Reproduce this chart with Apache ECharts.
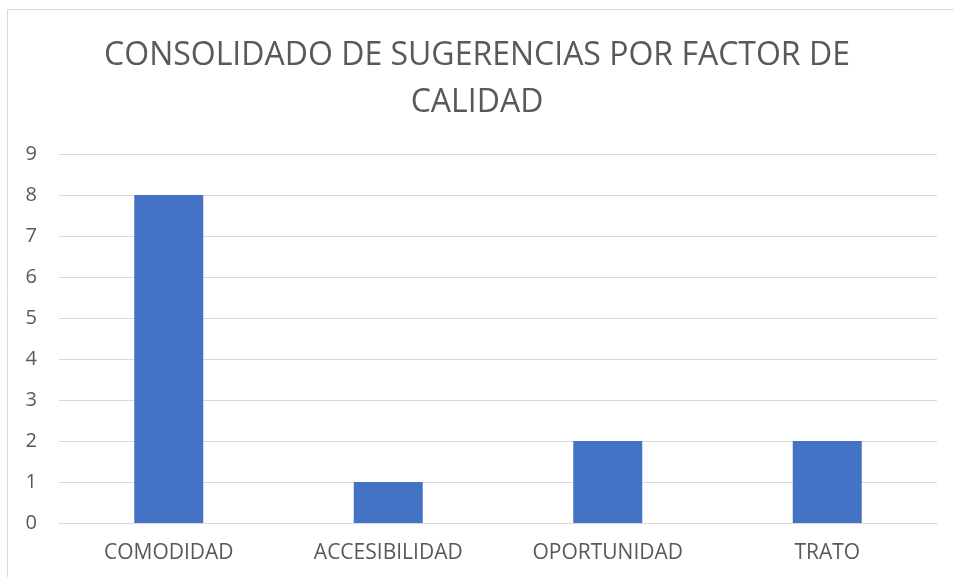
<!DOCTYPE html>
<html>
<head>
    <meta charset="UTF-8">
    <title>ECharts</title>
    <script src="https://cdn.jsdelivr.net/npm/echarts@6/dist/echarts.min.js"></script>
    <style>html,body{margin:0;padding:0;background:#fff;} #main{width:954px;height:577px;}</style>
</head>
<body>
<div id="main"></div>
<script>
    // datos
    var categorias = ['COMODIDAD', 'ACCESIBILIDAD', 'OPORTUNIDAD', 'TRATO'];
    var sugerencias = [8, 1, 2, 2];
    var titulo = 'CONSOLIDADO DE SUGERENCIAS POR FACTOR DE\nCALIDAD';

    var myChart = echarts.init(document.getElementById('main'));
    var option = {
        animation: false,
        graphic: [{
            type: 'rect',
            shape: {x: 7.5, y: 9.5, width: 960, height: 580},
            style: {fill: 'none', stroke: '#d9d9d9', lineWidth: 1}
        }],
        title: {
            text: titulo,
            left: 'center',
            top: 27,
            textStyle: {
                fontFamily: 'Open Sans',
                fontSize: 32,
                fontWeight: 'normal',
                color: '#595959',
                lineHeight: 47
            }
        },
        grid: {left: 59, right: 17, top: 154, bottom: 54},
        xAxis: {
            type: 'category',
            data: categorias,
            axisLine: {show: true, lineStyle: {color: '#d9d9d9'}},
            axisTick: {show: false},
            axisLabel: {
                fontFamily: 'Open Sans',
                fontSize: 21,
                color: '#595959',
                margin: 20
            }
        },
        yAxis: {
            type: 'value',
            min: 0,
            max: 9,
            interval: 1,
            axisLine: {show: false},
            axisTick: {show: false},
            splitLine: {lineStyle: {color: '#d9d9d9'}},
            axisLabel: {
                fontFamily: 'Open Sans',
                fontSize: 20,
                color: '#595959',
                margin: 22
            }
        },
        series: [{
            type: 'bar',
            data: sugerencias,
            barWidth: 69,
            itemStyle: {color: '#4472c4'}
        }]
    };
    myChart.setOption(option);
</script>
</body>
</html>
